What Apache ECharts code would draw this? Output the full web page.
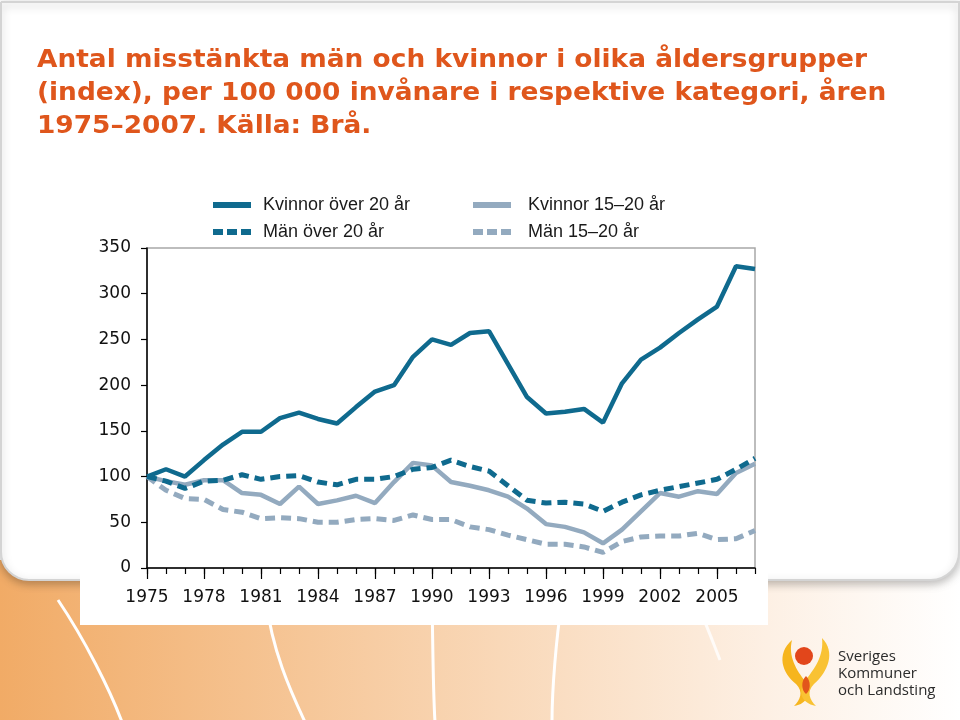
<!DOCTYPE html>
<html>
<head>
<meta charset="utf-8">
<script src="https://cdn.jsdelivr.net/npm/echarts@6/dist/echarts.min.js"></script>
<style>
html,body{margin:0;padding:0;background:#fff;}
#chart{width:960px;height:720px;}
</style>
</head>
<body>
<div id="chart"></div>
<script>
const years = ['1975','1976','1977','1978','1979','1980','1981','1982','1983','1984','1985','1986','1987','1988','1989','1990','1991','1992','1993','1994','1995','1996','1997','1998','1999','2000','2001','2002','2003','2004','2005','2006','2007'];
const kvinnorOver20 = [100,108,100,118,135,149,149,164,170,163,158,176,193,200,231,250,244,257,259,223,187,169,171,174,159,202,228,241,257,272,286,330,327];
const manOver20 = [100,95,87,95,96,102,97,100,101,94,91,97,97,100,108,110,118,111,106,90,74,71,72,70,62,72,80,85,89,93,97,108,120];
const kvinnor1520 = [100,95,91,96,96,82,80,70,89,70,74,79,71,94,115,112,94,90,85,78,65,48,45,39,27,42,62,82,78,84,81,104,114];
const man1520 = [100,85,76,75,64,61,54,55,54,50,50,53,54,52,58,53,53,45,42,36,31,26,26,23,17,29,34,35,35,38,31,32,41];
const seriesNames = ['Kvinnor över 20 år','Män över 20 år','Kvinnor 15–20 år','Män 15–20 år'];
const titleLines = ['Antal misstänkta män och kvinnor i olika åldersgrupper','(index), per 100 000 invånare i respektive kategori, åren','1975–2007. Källa: Brå.'];
const logoText = 'Sveriges\nKommuner\noch Landsting';
const yTicks = [0,50,100,150,200,250,300,350];

const dark = '#0f6a8e';
const light = '#93aabf';
const solidIcon = 'path://M0,0h38v6h-38z';
const dashIcon = 'path://M0,0h10v6h-10z M14,0h10v6h-10z M28,0h10v6h-10z';

// logo shapes
echarts.graphic.registerShape('skFlameL', echarts.graphic.extendShape({
  shape:{},
  buildPath:function(ctx){
    ctx.moveTo(792,640);
    ctx.bezierCurveTo(776,654,782,673,796,684);
    ctx.bezierCurveTo(804,692,800,700,794,706);
    ctx.bezierCurveTo(808,704,812,692,806,682);
    ctx.bezierCurveTo(796,670,788,656,792,640);
    ctx.closePath();
  }
}));
echarts.graphic.registerShape('skFlameR', echarts.graphic.extendShape({
  shape:{},
  buildPath:function(ctx){
    ctx.moveTo(822,638);
    ctx.bezierCurveTo(836,652,828,672,814,684);
    ctx.bezierCurveTo(806,692,810,700,816,706);
    ctx.bezierCurveTo(800,703,798,690,805,681);
    ctx.bezierCurveTo(815,668,824,656,822,638);
    ctx.closePath();
  }
}));
echarts.graphic.registerShape('skDrop', echarts.graphic.extendShape({
  shape:{},
  buildPath:function(ctx){
    ctx.moveTo(806,676);
    ctx.bezierCurveTo(811,681,811,690,806,694);
    ctx.bezierCurveTo(801,690,801,681,806,676);
    ctx.closePath();
  }
}));

const chart = echarts.init(document.getElementById('chart'), null, {renderer:'canvas'});

const axisFont = {fontFamily:'DejaVu Sans, Verdana, sans-serif', fontSize:17, color:'#111'};
const legendFont = {fontFamily:'Liberation Sans, Arial, sans-serif', fontSize:18, color:'#1a1a1a'};

const titleGraphics = titleLines.map(function(t, i){
  return {type:'text', z:10, silent:true, x:37, y:61 + i*33, scaleX:1.1,
    style:{text:t, fontFamily:'DejaVu Sans, Verdana, sans-serif', fontWeight:'bold', fontSize:24, fill:'#df561c', verticalAlign:'middle'}};
});

const option = {
  backgroundColor:'#ffffff',
  animation:false,
  graphic:[
    {type:'rect', z:-10, silent:true, shape:{x:0,y:560,width:960,height:160},
      style:{fill:new echarts.graphic.LinearGradient(0,0,1,0,[{offset:0,color:'#f1ab66'},{offset:0.45,color:'#f8d2ad'},{offset:0.8,color:'#fdf0e4'},{offset:1,color:'#ffffff'}])}},
    {type:'bezierCurve', z:-9, silent:true, shape:{x1:58,y1:600,x2:122,y2:722,cpx1:85,cpy1:640,cpx2:110,cpy2:690}, style:{stroke:'#ffffff',lineWidth:3,fill:null}},
    {type:'bezierCurve', z:-9, silent:true, shape:{x1:266,y1:600,x2:305,y2:722,cpx1:272,cpy1:650,cpx2:290,cpy2:690}, style:{stroke:'#ffffff',lineWidth:3,fill:null}},
    {type:'bezierCurve', z:-9, silent:true, shape:{x1:432,y1:600,x2:435,y2:722,cpx1:433,cpy1:650,cpx2:433,cpy2:690}, style:{stroke:'#ffffff',lineWidth:3,fill:null}},
    {type:'bezierCurve', z:-9, silent:true, shape:{x1:562,y1:600,x2:552,y2:722,cpx1:556,cpy1:640,cpx2:552,cpy2:690}, style:{stroke:'#ffffff',lineWidth:3,fill:null}},
    {type:'bezierCurve', z:-9, silent:true, shape:{x1:695,y1:600,x2:720,y2:660,cpx1:705,cpy1:620,cpx2:712,cpy2:640}, style:{stroke:'rgba(255,255,255,0.8)',lineWidth:3,fill:null}},
    {type:'rect', z:-8, silent:true, shape:{x:1,y:2,width:958,height:578,r:[0,0,28,28]},
      style:{fill:'#ffffff',stroke:'#d4d4d4',lineWidth:2,shadowBlur:8,shadowOffsetY:3,shadowColor:'rgba(0,0,0,0.25)'}},
    {type:'rect', z:-7, silent:true, shape:{x:80,y:180,width:688,height:445}, style:{fill:'#ffffff'}},
    {type:'skFlameL', z:-6, silent:true, style:{fill:'#f6b51e'}},
    {type:'skFlameR', z:-6, silent:true, style:{fill:'#f9c233'}},
    {type:'circle', z:-5, silent:true, shape:{cx:804,cy:656,r:9}, style:{fill:'#e2461b'}},
    {type:'skDrop', z:-5, silent:true, style:{fill:'#e2561b'}},
    {type:'text', z:-5, silent:true, x:838, y:648, style:{text:logoText, fontFamily:'Open Sans, Noto Sans, sans-serif', fontSize:15, lineHeight:17, fill:'#2b2b2b'}}
  ].concat(titleGraphics),
  legend:[
    {orient:'vertical', left:213, top:196, padding:0, itemWidth:38, itemHeight:6, itemGap:9,
      textStyle:Object.assign({padding:[0,0,0,7]}, legendFont),
      data:[{name:seriesNames[0], icon:solidIcon},{name:seriesNames[1], icon:dashIcon}]},
    {orient:'vertical', left:473, top:196, padding:0, itemWidth:38, itemHeight:6, itemGap:9,
      textStyle:Object.assign({padding:[0,0,0,12]}, legendFont),
      data:[{name:seriesNames[2], icon:solidIcon},{name:seriesNames[3], icon:dashIcon}]}
  ],
  grid:{left:147, right:205, top:248, bottom:152, show:true, borderColor:'#a8a8a8', borderWidth:1.5, backgroundColor:'transparent'},
  xAxis:[
    {type:'category', data:years, boundaryGap:false,
      axisLine:{lineStyle:{color:'#000',width:1.5}},
      axisTick:{interval:0, length:6, lineStyle:{color:'#000',width:1.2}},
      axisLabel:Object.assign({interval:2, margin:21}, axisFont),
      splitLine:{show:false}},
    {type:'category', data:years, boundaryGap:false, position:'bottom',
      axisLine:{show:false},
      axisTick:{interval:2, length:11, lineStyle:{color:'#000',width:1.2}},
      axisLabel:{show:false}, splitLine:{show:false}}
  ],
  yAxis:{type:'value', min:yTicks[0], max:yTicks[yTicks.length-1], interval:50,
    axisLine:{show:true, lineStyle:{color:'#000',width:1.5}},
    axisTick:{show:true, length:6, lineStyle:{color:'#000',width:1.2}},
    axisLabel:Object.assign({margin:16}, axisFont),
    splitLine:{show:false}},
  series:[
    {name:seriesNames[3], type:'line', data:man1520, symbol:'none', color:light, z:2,
      lineStyle:{color:light, width:5, type:[10,6]}},
    {name:seriesNames[2], type:'line', data:kvinnor1520, symbol:'none', color:light, z:3,
      lineStyle:{color:light, width:4.5}},
    {name:seriesNames[1], type:'line', data:manOver20, symbol:'none', color:dark, z:4,
      lineStyle:{color:dark, width:5, type:[10,6]}},
    {name:seriesNames[0], type:'line', data:kvinnorOver20, symbol:'none', color:dark, z:5,
      lineStyle:{color:dark, width:4.5}}
  ]
};
chart.setOption(option);
</script>
</body>
</html>
